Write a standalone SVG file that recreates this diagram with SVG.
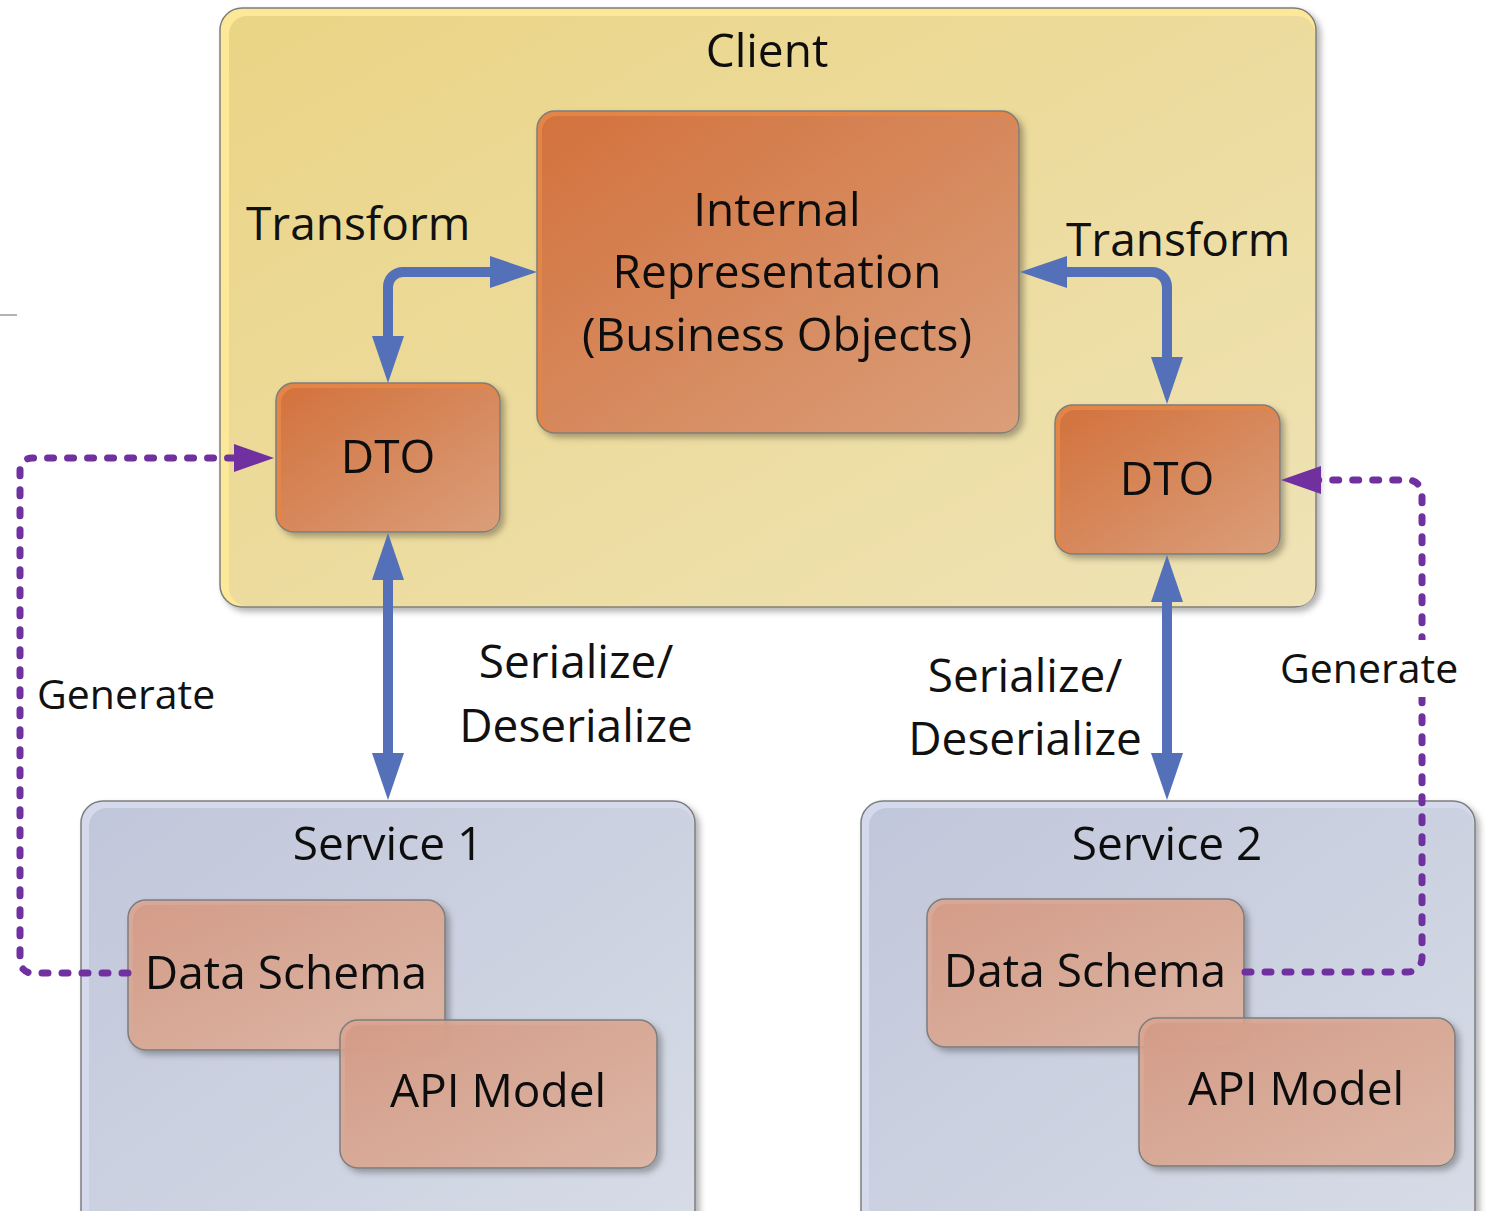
<svg xmlns="http://www.w3.org/2000/svg" width="1486" height="1211" viewBox="0 0 1486 1211">
  <defs>
    <linearGradient id="gClient" x1="0" y1="0" x2="1" y2="1">
      <stop offset="0" stop-color="#EAD485"/>
      <stop offset="1" stop-color="#EFE3B6"/>
    </linearGradient>
    <linearGradient id="gOrange" x1="0" y1="0" x2="1" y2="1">
      <stop offset="0" stop-color="#D3723D"/>
      <stop offset="1" stop-color="#DA9E7A"/>
    </linearGradient>
    <linearGradient id="gService" x1="0" y1="0" x2="1" y2="1">
      <stop offset="0" stop-color="#C1C7DA"/>
      <stop offset="1" stop-color="#D7DCE7"/>
    </linearGradient>
    <linearGradient id="gSalmon" x1="0" y1="0" x2="1" y2="1">
      <stop offset="0" stop-color="#D39A85"/>
      <stop offset="1" stop-color="#DDB9AA"/>
    </linearGradient>
    <filter id="shadow" x="-5%" y="-5%" width="115%" height="115%">
      <feDropShadow dx="4" dy="4" stdDeviation="3" flood-color="#000" flood-opacity="0.3"/>
    </filter>
    <marker id="blueHead" viewBox="0 0 47 32" refX="10" refY="16" markerWidth="47" markerHeight="32" markerUnits="userSpaceOnUse" orient="auto-start-reverse">
      <path d="M0,0 L47,16 L0,32 z" fill="#5470B8"/>
    </marker>
    <marker id="purpleHead" viewBox="0 0 40 28" refX="5" refY="14" markerWidth="40" markerHeight="28" markerUnits="userSpaceOnUse" orient="auto-start-reverse">
      <path d="M0,0 L40,14 L0,28 z" fill="#7030A0"/>
    </marker>
  </defs>
  <style>
    text { font-family: "Open Sans", "Noto Sans", "DejaVu Sans", sans-serif; fill: #111; }
    .big { font-size: 46px; }
    .mid { font-size: 41px; }
    .mc { text-anchor: middle; }
    .edge { stroke: #7d7d7d; stroke-width: 1.5; }
    .clientOuter { fill: #FDE897; }
    .clientInner { fill: url(#gClient); }
    .orangeOuter { fill: #E38546; }
    .orangeInner { fill: url(#gOrange); }
    .serviceOuter { fill: #D4DAEC; }
    .serviceInner { fill: url(#gService); }
    .salmonOuter { fill: #DCA58F; fill-opacity: 0.85; }
    .salmonInner { fill: url(#gSalmon); fill-opacity: 0.82; }
    .blue { fill: none; stroke: #5470B8; stroke-width: 10; }
    .purple { fill: none; stroke: #7030A0; stroke-width: 7; stroke-dasharray: 6 14; stroke-linecap: round; }
  </style>

  <rect width="1486" height="1211" fill="#fff"/>
  <line x1="0" y1="315" x2="17" y2="315" stroke="#9a9a9a" stroke-width="1.5"/>

  <!-- Client container -->
  <g id="client" filter="url(#shadow)">
    <rect class="clientOuter edge" x="220" y="8" width="1096" height="599" rx="22"/>
    <rect class="clientInner" x="229" y="16" width="1086" height="590" rx="18"/>
    <text class="big mc" x="767" y="67">Client</text>
  </g>

  <!-- Service containers -->
  <g id="service1" filter="url(#shadow)">
    <rect class="serviceOuter edge" x="81" y="801" width="614" height="440" rx="22"/>
    <rect class="serviceInner" x="89" y="808" width="605" height="432" rx="18"/>
    <text class="big mc" x="388" y="860">Service 1</text>
  </g>
  <g id="service2" filter="url(#shadow)">
    <rect class="serviceOuter edge" x="861" y="801" width="614" height="440" rx="22"/>
    <rect class="serviceInner" x="869" y="808" width="605" height="432" rx="18"/>
    <text class="big mc" x="1167" y="860">Service 2</text>
  </g>

  <!-- Client objects -->
  <g id="internal" filter="url(#shadow)">
    <rect class="orangeOuter edge" x="537" y="111" width="482" height="322" rx="18"/>
    <rect class="orangeInner" x="542" y="116" width="476" height="316" rx="15"/>
    <text class="big mc" x="777" y="226">Internal</text>
    <text class="big mc" x="777" y="288">Representation</text>
    <text class="big mc" x="777" y="351">(Business Objects)</text>
  </g>
  <g id="dto1" filter="url(#shadow)">
    <rect class="orangeOuter edge" x="276" y="383" width="224" height="149" rx="18"/>
    <rect class="orangeInner" x="281" y="388" width="218" height="143" rx="15"/>
    <text class="big mc" x="388" y="473">DTO</text>
  </g>
  <g id="dto2" filter="url(#shadow)">
    <rect class="orangeOuter edge" x="1055" y="405" width="225" height="149" rx="18"/>
    <rect class="orangeInner" x="1060" y="410" width="219" height="143" rx="15"/>
    <text class="big mc" x="1167" y="495">DTO</text>
  </g>

  <!-- Service 1 models (semi-transparent, overlapping) -->
  <g id="dataSchema1" filter="url(#shadow)">
    <rect class="salmonOuter edge" x="128" y="900" width="317" height="150" rx="18"/>
    <rect class="salmonInner" x="133" y="905" width="311" height="144" rx="15"/>
    <text class="big mc" x="286" y="989">Data Schema</text>
  </g>
  <g id="apiModel1" filter="url(#shadow)">
    <rect class="salmonOuter edge" x="340" y="1020" width="317" height="148" rx="18"/>
    <rect class="salmonInner" x="345" y="1025" width="311" height="142" rx="15"/>
    <text class="big mc" x="498" y="1107">API Model</text>
  </g>

  <!-- Service 2 models -->
  <g id="dataSchema2" filter="url(#shadow)">
    <rect class="salmonOuter edge" x="927" y="899" width="317" height="148" rx="18"/>
    <rect class="salmonInner" x="932" y="904" width="311" height="142" rx="15"/>
    <text class="big mc" x="1085" y="987">Data Schema</text>
  </g>
  <g id="apiModel2" filter="url(#shadow)">
    <rect class="salmonOuter edge" x="1139" y="1018" width="316" height="148" rx="18"/>
    <rect class="salmonInner" x="1144" y="1023" width="310" height="142" rx="15"/>
    <text class="big mc" x="1296" y="1105">API Model</text>
  </g>

  <!-- Connectors -->
  <g id="connectors">
    <path class="blue" d="M388,346 V287 A15,15 0 0 1 403,272 H500" marker-start="url(#blueHead)" marker-end="url(#blueHead)"/>
    <path class="blue" d="M1057,272 H1152 A15,15 0 0 1 1167,287 V367" marker-start="url(#blueHead)" marker-end="url(#blueHead)"/>
    <path class="blue" d="M388,570 V763" marker-start="url(#blueHead)" marker-end="url(#blueHead)"/>
    <path class="blue" d="M1167,592 V763" marker-start="url(#blueHead)" marker-end="url(#blueHead)"/>
    <path class="purple" d="M128,973 H32 A12,12 0 0 1 20,961 V470 A12,12 0 0 1 32,458 H239" marker-end="url(#purpleHead)"/>
    <path class="purple" d="M1245,972 H1408 A14,14 0 0 0 1422,958 V494 A14,14 0 0 0 1408,480 H1316" marker-end="url(#purpleHead)"/>
  </g>

  <!-- Connector labels -->
  <g id="labels">
    <text class="big" x="246" y="240">Transform</text>
    <text class="big" x="1066" y="256">Transform</text>
    <text class="big mc" x="576" y="678">Serialize/</text>
    <text class="big mc" x="576" y="742">Deserialize</text>
    <text class="big mc" x="1025" y="692">Serialize/</text>
    <text class="big mc" x="1025" y="755">Deserialize</text>
    <text class="mid" x="37" y="709">Generate</text>
    <rect x="1274" y="640" width="190" height="57" fill="#fff"/>
    <text class="mid" x="1280" y="683">Generate</text>
  </g>
</svg>
